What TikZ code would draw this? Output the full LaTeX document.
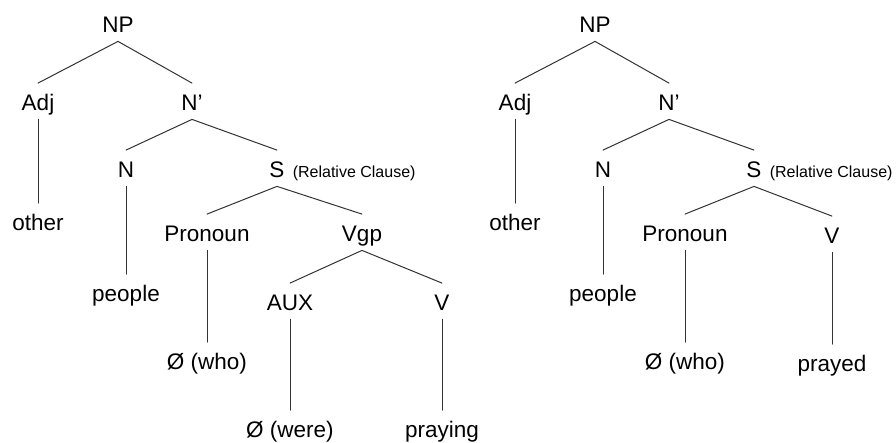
\documentclass[tikz,border=0pt]{standalone}
\usepackage{fontspec}
\setmainfont{Liberation Sans}
\begin{document}
\begin{tikzpicture}[x=0.5pt, y=-0.5pt, line join=round, line cap=round,
    font=\fontsize{11.25}{13}\selectfont,
    cat/.style={anchor=base, inner xsep=3.75pt, inner ysep=1.5pt, text height=12.25pt, text depth=2.5pt},
    note/.style={anchor=base west, inner sep=0pt, font=\fontsize{8}{10}\selectfont},
    edge/.style={draw=black!80, line width=0.5pt}]
    \useasboundingbox (0,0) rectangle (896,443);
    % left tree
    \node[cat] (np) at (118,33) {NP};
    \node[cat] (adj) at (38,111) {Adj};
    \node[cat] (nbar) at (192,111) {N’};
    \node[cat] (n) at (126,178) {N};
    \node[cat] (s) at (277,178) {S};
    \node[note] (rc) at (s.base east) {(Relative Clause)};
    \node[cat] (other) at (38,231) {other};
    \node[cat] (people) at (126,302) {people};
    \node[cat] (pron) at (207,242) {Pronoun};
    \node[cat] (vgp) at (362,242) {Vgp};
    \node[cat] (aux) at (290,311) {AUX};
    \node[cat] (v) at (442,311) {V};
    \node[cat] (who) at (207,370) {Ø (who)};
    \node[cat] (were) at (290,438) {Ø (were)};
    \node[cat] (praying) at (442,438) {praying};
    \draw[edge] (np.south) -- (adj.north);
    \draw[edge] (np.south) -- (nbar.north);
    \draw[edge] (adj.south) -- (other.north);
    \draw[edge] (nbar.south) -- (n.north);
    \draw[edge] (nbar.south) -- (s.north);
    \draw[edge] (n.south) -- (people.north);
    \draw[edge] (s.south) -- (pron.north);
    \draw[edge] (s.south) -- (vgp.north);
    \draw[edge] (pron.south) -- (who.north);
    \draw[edge] (vgp.south) -- (aux.north);
    \draw[edge] (vgp.south) -- (v.north);
    \draw[edge] (aux.south) -- (were.north);
    \draw[edge] (v.south) -- (praying.north);
    % right tree
    \node[cat] (np2) at (595,33) {NP};
    \node[cat] (adj2) at (515,111) {Adj};
    \node[cat] (nbar2) at (669,111) {N’};
    \node[cat] (n2) at (603,178) {N};
    \node[cat] (s2) at (754,178) {S};
    \node[note] (rc2) at (s2.base east) {(Relative Clause)};
    \node[cat] (other2) at (515,231) {other};
    \node[cat] (people2) at (603,302) {people};
    \node[cat] (pron2) at (685,242) {Pronoun};
    \node[cat] (v2) at (832,244) {V};
    \node[cat] (who2) at (685,370) {Ø (who)};
    \node[cat] (prayed) at (832,372) {prayed};
    \draw[edge] (np2.south) -- (adj2.north);
    \draw[edge] (np2.south) -- (nbar2.north);
    \draw[edge] (adj2.south) -- (other2.north);
    \draw[edge] (nbar2.south) -- (n2.north);
    \draw[edge] (nbar2.south) -- (s2.north);
    \draw[edge] (n2.south) -- (people2.north);
    \draw[edge] (s2.south) -- (pron2.north);
    \draw[edge] (s2.south) -- (v2.north);
    \draw[edge] (pron2.south) -- (who2.north);
    \draw[edge] (v2.south) -- (prayed.north);
\end{tikzpicture}
\end{document}
